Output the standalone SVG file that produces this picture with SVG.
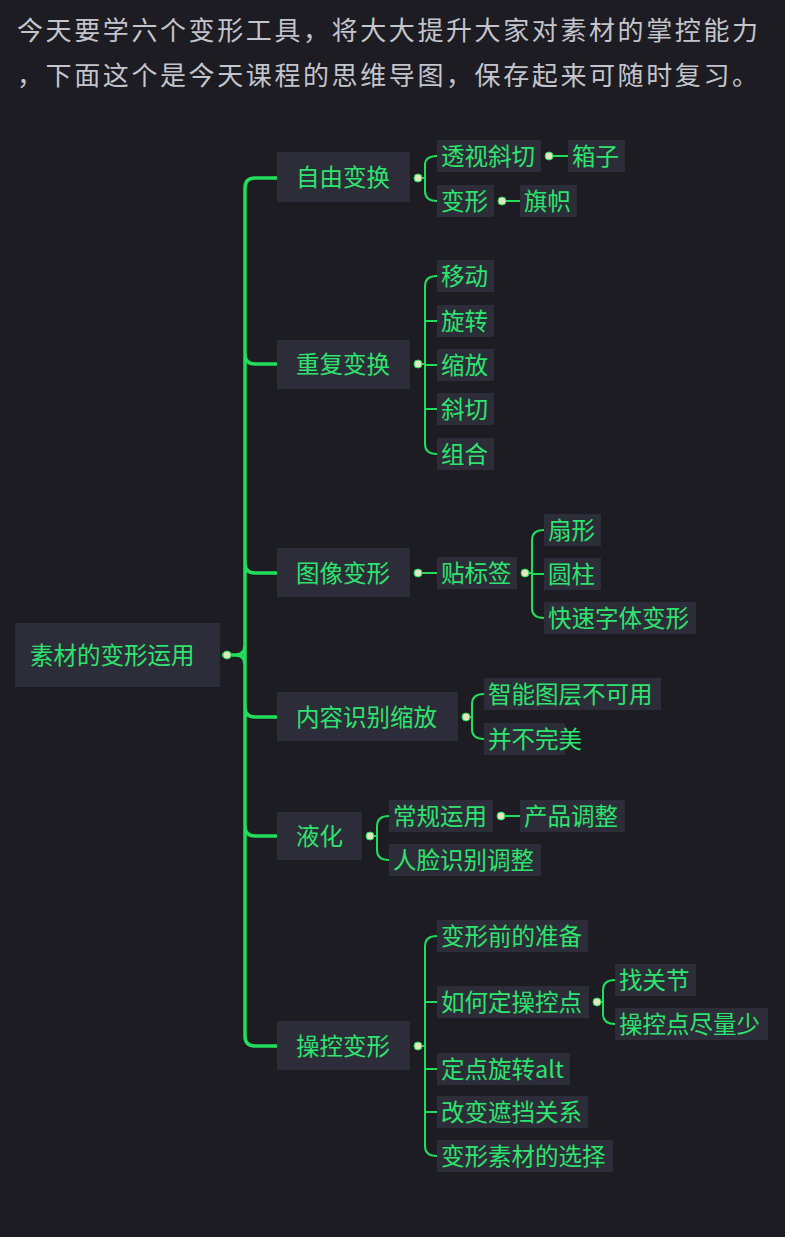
<svg xmlns="http://www.w3.org/2000/svg" width="785" height="1237" viewBox="0 0 785 1237">
<style>
.n{fill:#2c2d38}
.t{fill:#2ee46e;font-family:"Noto Sans CJK SC","Noto Sans",sans-serif;font-size:23.5px}
.h{fill:#c4c4cc;font-family:"Noto Sans CJK SC",sans-serif;font-size:26px;letter-spacing:2.6px}
.c path{fill:none;stroke:#22dd5c;stroke-width:2}
.c .m{stroke-width:3.5}
.c circle{fill:#e4e6c0;stroke:#22dd5c;stroke-width:1}
</style>
<rect width="785" height="1237" fill="#1c1c22"/>
<text class="h" x="17" y="40">今天要学六个变形工具，将大大提升大家对素材的掌控能力</text>
<text class="h" x="17" y="85">，下面这个是今天课程的思维导图，保存起来可随时复习。</text>
<g class="c">
<path class="m" d="M222 655H236Q245 655 245 645M245 665Q245 655 236 655M245 188V1036M245 188Q245 178 255 178H277M245 354Q245 364 255 364H277M245 563Q245 573 255 573H277M245 707Q245 717 255 717H277M245 826Q245 836 255 836H277M245 1036Q245 1046 255 1046H277"/>
<path d="M418 178H425M425 165V191M425 165Q425 156 437 156M425 191Q425 201 437 201"/>
<path d="M549 156H568M502 201H520"/>
<path d="M418 364H425M425 286V444Q425 454 437 454M425 286Q425 276 437 276M425 321H437M425 365H437M425 409H437"/>
<path d="M418 573H437M525 573H532M532 540V608Q532 618 544 618M532 540Q532 530 544 530M532 574H544"/>
<path d="M466 717H472M472 704V729Q472 739 484 739M472 704Q472 694 484 694"/>
<path d="M370 836H377M377 826V850Q377 860 389 860M377 826Q377 816 389 816M501 816H520"/>
<path d="M418 1046H425M425 946V1146Q425 1156 437 1156M425 946Q425 936 437 936M425 1002H437M425 1069H437M425 1112H437"/>
<path d="M597 1002H603M603 990V1014Q603 1024 615 1024M603 990Q603 980 615 980"/>
<circle cx="227" cy="655" r="4"/><circle cx="418" cy="178" r="4"/><circle cx="549" cy="156" r="4"/><circle cx="502" cy="201" r="4"/><circle cx="418" cy="364" r="4"/><circle cx="418" cy="573" r="4"/><circle cx="525" cy="573" r="4"/><circle cx="466" cy="717" r="4"/><circle cx="370" cy="836" r="4"/><circle cx="501" cy="816" r="4"/><circle cx="418" cy="1046" r="4"/><circle cx="597" cy="1002" r="4"/>
</g>
<g id="root"><rect class="n" x="15" y="623" width="205" height="64"/><text class="t" x="30" y="664">素材的变形运用</text></g>
<g id="n1"><rect class="n" x="277" y="152" width="133" height="50"/><text class="t" x="296" y="186">自由变换</text></g>
<g id="n1a"><rect class="n" x="437" y="140" width="104" height="32"/><text class="t" x="441" y="165">透视斜切</text></g>
<g id="n1a1"><rect class="n" x="568" y="140" width="57" height="32"/><text class="t" x="572" y="165">箱子</text></g>
<g id="n1b"><rect class="n" x="437" y="185" width="57" height="32"/><text class="t" x="441" y="210">变形</text></g>
<g id="n1b1"><rect class="n" x="520" y="185" width="57" height="32"/><text class="t" x="524" y="210">旗帜</text></g>
<g id="n2"><rect class="n" x="277" y="340" width="133" height="49"/><text class="t" x="296" y="373">重复变换</text></g>
<g id="n2a"><rect class="n" x="437" y="260" width="57" height="32"/><text class="t" x="441" y="285">移动</text></g>
<g id="n2b"><rect class="n" x="437" y="305" width="57" height="32"/><text class="t" x="441" y="330">旋转</text></g>
<g id="n2c"><rect class="n" x="437" y="349" width="57" height="32"/><text class="t" x="441" y="374">缩放</text></g>
<g id="n2d"><rect class="n" x="437" y="393" width="57" height="32"/><text class="t" x="441" y="418">斜切</text></g>
<g id="n2e"><rect class="n" x="437" y="438" width="57" height="32"/><text class="t" x="441" y="463">组合</text></g>
<g id="n3"><rect class="n" x="277" y="548" width="133" height="49"/><text class="t" x="296" y="582">图像变形</text></g>
<g id="n3a"><rect class="n" x="437" y="557" width="80" height="32"/><text class="t" x="441" y="582">贴标签</text></g>
<g id="n3a1"><rect class="n" x="544" y="514" width="57" height="32"/><text class="t" x="548" y="539">扇形</text></g>
<g id="n3a2"><rect class="n" x="544" y="558" width="57" height="32"/><text class="t" x="548" y="583">圆柱</text></g>
<g id="n3a3"><rect class="n" x="544" y="602" width="152" height="32"/><text class="t" x="548" y="627">快速字体变形</text></g>
<g id="n4"><rect class="n" x="277" y="692" width="181" height="49"/><text class="t" x="296" y="726">内容识别缩放</text></g>
<g id="n4a"><rect class="n" x="484" y="678" width="177" height="32"/><text class="t" x="488" y="703">智能图层不可用</text></g>
<g id="n4b"><rect class="n" x="484" y="723" width="81" height="32"/><text class="t" x="488" y="748">并不完美</text></g>
<g id="n5"><rect class="n" x="277" y="812" width="85" height="48"/><text class="t" x="296" y="845">液化</text></g>
<g id="n5a"><rect class="n" x="389" y="800" width="104" height="32"/><text class="t" x="393" y="825">常规运用</text></g>
<g id="n5a1"><rect class="n" x="520" y="800" width="105" height="32"/><text class="t" x="524" y="825">产品调整</text></g>
<g id="n5b"><rect class="n" x="389" y="844" width="152" height="32"/><text class="t" x="393" y="869">人脸识别调整</text></g>
<g id="n6"><rect class="n" x="277" y="1021" width="133" height="49"/><text class="t" x="296" y="1055">操控变形</text></g>
<g id="n6a"><rect class="n" x="437" y="920" width="151" height="32"/><text class="t" x="441" y="945">变形前的准备</text></g>
<g id="n6b"><rect class="n" x="437" y="986" width="152" height="32"/><text class="t" x="441" y="1011">如何定操控点</text></g>
<g id="n6b1"><rect class="n" x="615" y="964" width="81" height="32"/><text class="t" x="619" y="989">找关节</text></g>
<g id="n6b2"><rect class="n" x="615" y="1008" width="153" height="32"/><text class="t" x="619" y="1033">操控点尽量少</text></g>
<g id="n6c"><rect class="n" x="437" y="1053" width="133" height="32"/><text class="t" x="441" y="1078">定点旋转alt</text></g>
<g id="n6d"><rect class="n" x="437" y="1096" width="151" height="32"/><text class="t" x="441" y="1121">改变遮挡关系</text></g>
<g id="n6e"><rect class="n" x="437" y="1140" width="176" height="32"/><text class="t" x="441" y="1165">变形素材的选择</text></g>
</svg>
